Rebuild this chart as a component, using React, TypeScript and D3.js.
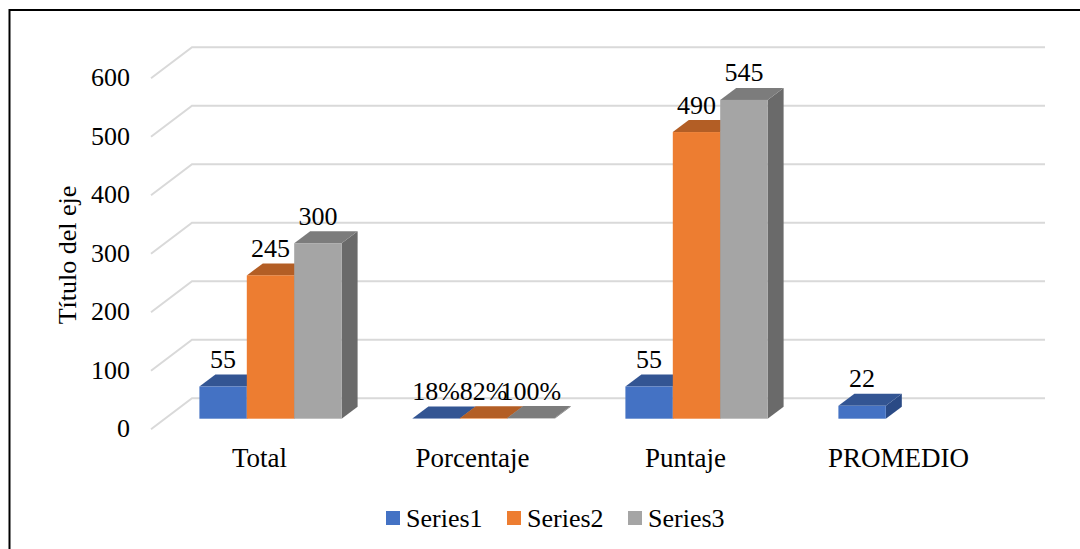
import React from 'react';
import * as d3 from 'd3';

const categories = ['Total', 'Porcentaje', 'Puntaje', 'PROMEDIO'];
const seriesNames = ['Series1', 'Series2', 'Series3'];
const series1 = [55, 0.18, 55, 22];
const series2 = [245, 0.82, 490, null];
const series3 = [300, 1, 545, null];
const labels1 = ['55', '18%', '55', '22'];
const labels2 = ['245', '82%', '490', ''];
const labels3 = ['300', '100%', '545', ''];
const yTicks = [0, 100, 200, 300, 400, 500, 600];
const frontColors = ['#4472C4', '#ED7D31', '#A5A5A5'];
const topColors = ['#335593', '#B35E25', '#7C7C7C'];
const sideColors = ['#2A4A85', '#9E5220', '#6A6A6A'];

const font = '"Liberation Serif", serif';
const W = 1080, H = 549;
const seriesValues = [series1, series2, series3];
const seriesLabels = [labels1, labels2, labels3];

export default function App() {
  const barBase = 418.7;
  const y = d3.scaleLinear().domain([0, 600]).range([barBase, barBase - 351]);
  const x0 = d3.scaleBand<string>().domain(categories).range([164, 1016]).paddingInner(0).paddingOuter(0);
  const barW = 47.4;
  const groupW = barW * 3;
  const depthX = 16, depthY = 12;
  const floorFrontOffset = 10.5;
  const floorDX = 41, floorDY = 31;
  const leftX = 151;
  const gridRight = 1045;

  const gridY = (v: number) => y(v) + floorFrontOffset;

  return (
    <svg width={W} height={H} style={{ position: 'absolute', left: 0, top: 0, display: 'block' }} fontFamily={font} fill="#000">
      <rect x={0} y={0} width={W} height={H} fill="#fff" />
      <path d={`M9.5,${H} V10 H${W}`} fill="none" stroke="#000" strokeWidth={2} />
      {yTicks.map(t => (
        <g key={t}>
          <path
            d={`M${leftX},${gridY(t)} L${leftX + floorDX},${gridY(t) - floorDY} H${gridRight}`}
            fill="none"
            stroke="#D9D9D9"
            strokeWidth={2}
          />
          <text x={130} y={gridY(t) + 8} fontSize={26} textAnchor="end">{t}</text>
        </g>
      ))}
      {categories.map((c, i) => {
        const gx = (x0(c) as number) + (x0.bandwidth() - groupW) / 2;
        return (
          <g key={c}>
            {seriesValues.map((vals, s) => {
              const v = vals[i];
              if (v === null) return null;
              const bx = gx + s * barW;
              const top = y(v);
              return (
                <g key={s}>
                  <polygon
                    points={`${bx + barW},${barBase} ${bx + barW + depthX},${barBase - depthY} ${bx + barW + depthX},${top - depthY} ${bx + barW},${top}`}
                    fill={sideColors[s]}
                  />
                  <polygon
                    points={`${bx},${top} ${bx + depthX},${top - depthY} ${bx + barW + depthX},${top - depthY} ${bx + barW},${top}`}
                    fill={topColors[s]}
                  />
                  <rect x={bx} y={top} width={barW} height={barBase - top} fill={frontColors[s]} />
                </g>
              );
            })}
            <text x={(x0(c) as number) + x0.bandwidth() / 2 - 11} y={467} fontSize={27} textAnchor="middle">{c}</text>
          </g>
        );
      })}
      {categories.map((c, i) => {
        const gx = (x0(c) as number) + (x0.bandwidth() - groupW) / 2;
        return seriesLabels.map((ls, s) => {
          const v = seriesValues[s][i];
          if (v === null) return null;
          return (
            <text key={c + s} x={gx + s * barW + barW / 2} y={y(v) - 18.5} fontSize={26} textAnchor="middle">
              {ls[i]}
            </text>
          );
        });
      })}
      <text transform="translate(76,255) rotate(-90)" fontSize={26} textAnchor="middle">Título del eje</text>
      {seriesNames.map((n, i) => {
        const lx = [386, 507, 628][i];
        return (
          <g key={n}>
            <rect x={lx} y={511} width={14} height={14} fill={frontColors[i]} />
            <text x={lx + 20} y={527} fontSize={26}>{n}</text>
          </g>
        );
      })}
    </svg>
  );
}
